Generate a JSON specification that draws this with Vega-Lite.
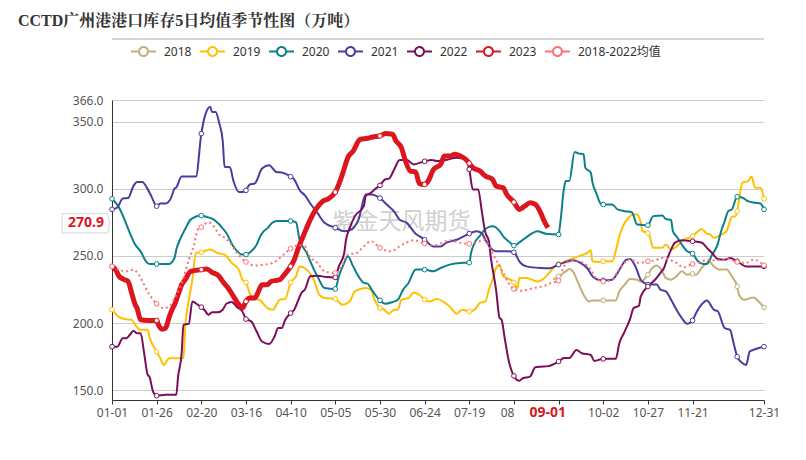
{
"$schema":"https://vega.github.io/schema/vega-lite/v6.json",
"width":652,"height":300,
"autosize":{"type":"none"},
"padding":{"left":112,"top":100,"right":42,"bottom":60},
"background":"white",
"config":{"view":{"stroke":null},"font":"Noto Sans"},
"title":{"text":"CCTD广州港港口库存5日均值季节性图（万吨）","anchor":"start","frame":"group","dx":-94,"offset":9,"font":"Liberation Serif, Noto Serif CJK SC, Noto Sans CJK SC","fontSize":16,"fontWeight":"bold","color":"#333"},
"data":{"format":{"parse":{"d":"date"}},"values":[
{"s":"2018","d":"2020-09-04","v":232.3},{"s":"2018","d":"2020-09-07","v":234.8},{"s":"2018","d":"2020-09-11","v":238.5},{"s":"2018","d":"2020-09-13","v":240.3},{"s":"2018","d":"2020-09-15","v":238.5},{"s":"2018","d":"2020-09-18","v":229.9},{"s":"2018","d":"2020-09-21","v":221.1},{"s":"2018","d":"2020-09-24","v":216.1},{"s":"2018","d":"2020-09-26","v":216.9},{"s":"2018","d":"2020-10-02","v":216.9},{"s":"2018","d":"2020-10-09","v":216.9},{"s":"2018","d":"2020-10-11","v":223.6},{"s":"2018","d":"2020-10-14","v":228.6},{"s":"2018","d":"2020-10-17","v":232.8},{"s":"2018","d":"2020-10-21","v":232.3},{"s":"2018","d":"2020-10-23","v":231},{"s":"2018","d":"2020-10-27","v":236},{"s":"2018","d":"2020-10-29","v":240.3},{"s":"2018","d":"2020-11-01","v":242.8},{"s":"2018","d":"2020-11-04","v":238.5},{"s":"2018","d":"2020-11-06","v":233.6},{"s":"2018","d":"2020-11-09","v":232.3},{"s":"2018","d":"2020-11-12","v":234.8},{"s":"2018","d":"2020-11-15","v":238.5},{"s":"2018","d":"2020-11-18","v":236},{"s":"2018","d":"2020-11-21","v":236.6},{"s":"2018","d":"2020-11-23","v":236},{"s":"2018","d":"2020-11-26","v":241},{"s":"2018","d":"2020-11-29","v":244.8},{"s":"2018","d":"2020-11-30","v":246},{"s":"2018","d":"2020-12-03","v":242.2},{"s":"2018","d":"2020-12-06","v":239.8},{"s":"2018","d":"2020-12-10","v":239.8},{"s":"2018","d":"2020-12-13","v":234.8},{"s":"2018","d":"2020-12-16","v":227.3},{"s":"2018","d":"2020-12-17","v":221.1},{"s":"2018","d":"2020-12-20","v":217.4},{"s":"2018","d":"2020-12-25","v":219.1},{"s":"2018","d":"2020-12-28","v":216.1},{"s":"2018","d":"2020-12-31","v":211.6},
{"s":"2019","d":"2020-01-01","v":210},{"s":"2019","d":"2020-01-05","v":204.5},{"s":"2019","d":"2020-01-08","v":203},{"s":"2019","d":"2020-01-12","v":202.5},{"s":"2019","d":"2020-01-14","v":198.7},{"s":"2019","d":"2020-01-17","v":195},{"s":"2019","d":"2020-01-21","v":195},{"s":"2019","d":"2020-01-22","v":189.6},{"s":"2019","d":"2020-01-26","v":178.8},{"s":"2019","d":"2020-01-28","v":173.9},{"s":"2019","d":"2020-01-30","v":168.9},{"s":"2019","d":"2020-02-02","v":173.9},{"s":"2019","d":"2020-02-10","v":173.9},{"s":"2019","d":"2020-02-11","v":197.5},{"s":"2019","d":"2020-02-13","v":217.4},{"s":"2019","d":"2020-02-15","v":232.3},{"s":"2019","d":"2020-02-17","v":252.2},{"s":"2019","d":"2020-02-20","v":252.7},{"s":"2019","d":"2020-02-25","v":254.7},{"s":"2019","d":"2020-02-29","v":252.2},{"s":"2019","d":"2020-03-04","v":251},{"s":"2019","d":"2020-03-08","v":244.8},{"s":"2019","d":"2020-03-12","v":239.8},{"s":"2019","d":"2020-03-14","v":232.3},{"s":"2019","d":"2020-03-16","v":230.3},{"s":"2019","d":"2020-03-18","v":222.4},{"s":"2019","d":"2020-03-20","v":218.7},{"s":"2019","d":"2020-03-24","v":216.9},{"s":"2019","d":"2020-03-28","v":211.2},{"s":"2019","d":"2020-03-31","v":210},{"s":"2019","d":"2020-04-04","v":217.4},{"s":"2019","d":"2020-04-07","v":218},{"s":"2019","d":"2020-04-10","v":230.3},{"s":"2019","d":"2020-04-13","v":234.8},{"s":"2019","d":"2020-04-15","v":242.2},{"s":"2019","d":"2020-04-19","v":239.8},{"s":"2019","d":"2020-04-23","v":232.3},{"s":"2019","d":"2020-04-26","v":221.1},{"s":"2019","d":"2020-04-29","v":218.7},{"s":"2019","d":"2020-05-05","v":218},{"s":"2019","d":"2020-05-09","v":213.7},{"s":"2019","d":"2020-05-13","v":216.1},{"s":"2019","d":"2020-05-16","v":223.6},{"s":"2019","d":"2020-05-22","v":226.1},{"s":"2019","d":"2020-05-25","v":225},{"s":"2019","d":"2020-05-27","v":217.4},{"s":"2019","d":"2020-05-30","v":211.2},{"s":"2019","d":"2020-06-01","v":210.5},{"s":"2019","d":"2020-06-04","v":207},{"s":"2019","d":"2020-06-07","v":210},{"s":"2019","d":"2020-06-09","v":210},{"s":"2019","d":"2020-06-11","v":217.4},{"s":"2019","d":"2020-06-15","v":218.7},{"s":"2019","d":"2020-06-18","v":222.8},{"s":"2019","d":"2020-06-21","v":221.1},{"s":"2019","d":"2020-06-24","v":217.4},{"s":"2019","d":"2020-06-27","v":216.1},{"s":"2019","d":"2020-07-01","v":218},{"s":"2019","d":"2020-07-05","v":215.4},{"s":"2019","d":"2020-07-08","v":212.4},{"s":"2019","d":"2020-07-12","v":207},{"s":"2019","d":"2020-07-15","v":210},{"s":"2019","d":"2020-07-19","v":208.7},{"s":"2019","d":"2020-07-22","v":210},{"s":"2019","d":"2020-07-25","v":215},{"s":"2019","d":"2020-07-28","v":216.1},{"s":"2019","d":"2020-07-30","v":224.9},{"s":"2019","d":"2020-08-01","v":232.3},{"s":"2019","d":"2020-08-03","v":241},{"s":"2019","d":"2020-08-05","v":243.5},{"s":"2019","d":"2020-08-07","v":234.8},{"s":"2019","d":"2020-08-09","v":233.6},{"s":"2019","d":"2020-08-13","v":230.3},{"s":"2019","d":"2020-08-15","v":226.1},{"s":"2019","d":"2020-08-16","v":233.6},{"s":"2019","d":"2020-08-20","v":233.6},{"s":"2019","d":"2020-08-26","v":231},{"s":"2019","d":"2020-08-29","v":232.3},{"s":"2019","d":"2020-08-31","v":234.8},{"s":"2019","d":"2020-09-05","v":242.2},{"s":"2019","d":"2020-09-07","v":244},{"s":"2019","d":"2020-09-09","v":244.8},{"s":"2019","d":"2020-09-13","v":247.2},{"s":"2019","d":"2020-09-18","v":249.7},{"s":"2019","d":"2020-09-23","v":252.2},{"s":"2019","d":"2020-09-25","v":254.2},{"s":"2019","d":"2020-09-26","v":246},{"s":"2019","d":"2020-09-29","v":245.5},{"s":"2019","d":"2020-10-02","v":246},{"s":"2019","d":"2020-10-07","v":246},{"s":"2019","d":"2020-10-09","v":253.4},{"s":"2019","d":"2020-10-11","v":264.6},{"s":"2019","d":"2020-10-13","v":272},{"s":"2019","d":"2020-10-16","v":278.4},{"s":"2019","d":"2020-10-19","v":280.8},{"s":"2019","d":"2020-10-21","v":280.8},{"s":"2019","d":"2020-10-23","v":274.6},{"s":"2019","d":"2020-10-24","v":268.4},{"s":"2019","d":"2020-10-27","v":267},{"s":"2019","d":"2020-10-28","v":264.6},{"s":"2019","d":"2020-10-30","v":256},{"s":"2019","d":"2020-11-04","v":256},{"s":"2019","d":"2020-11-06","v":258.4},{"s":"2019","d":"2020-11-09","v":254.7},{"s":"2019","d":"2020-11-12","v":257},{"s":"2019","d":"2020-11-16","v":262},{"s":"2019","d":"2020-11-21","v":264.6},{"s":"2019","d":"2020-11-23","v":267},{"s":"2019","d":"2020-11-26","v":270.1},{"s":"2019","d":"2020-11-29","v":266.6},{"s":"2019","d":"2020-12-01","v":265.9},{"s":"2019","d":"2020-12-03","v":263.4},{"s":"2019","d":"2020-12-07","v":265.9},{"s":"2019","d":"2020-12-10","v":268.4},{"s":"2019","d":"2020-12-13","v":279},{"s":"2019","d":"2020-12-15","v":279.5},{"s":"2019","d":"2020-12-16","v":283.3},{"s":"2019","d":"2020-12-17","v":292},{"s":"2019","d":"2020-12-19","v":304.5},{"s":"2019","d":"2020-12-22","v":305.7},{"s":"2019","d":"2020-12-24","v":309},{"s":"2019","d":"2020-12-26","v":300.7},{"s":"2019","d":"2020-12-29","v":300.7},{"s":"2019","d":"2020-12-31","v":292.5},
{"s":"2020","d":"2020-01-01","v":292.5},{"s":"2020","d":"2020-01-05","v":285.8},{"s":"2020","d":"2020-01-08","v":277},{"s":"2020","d":"2020-01-11","v":267},{"s":"2020","d":"2020-01-14","v":258.4},{"s":"2020","d":"2020-01-17","v":253.4},{"s":"2020","d":"2020-01-20","v":246},{"s":"2020","d":"2020-01-22","v":244},{"s":"2020","d":"2020-01-26","v":244},{"s":"2020","d":"2020-02-02","v":244},{"s":"2020","d":"2020-02-05","v":248.5},{"s":"2020","d":"2020-02-06","v":254.7},{"s":"2020","d":"2020-02-08","v":262},{"s":"2020","d":"2020-02-11","v":270},{"s":"2020","d":"2020-02-14","v":277},{"s":"2020","d":"2020-02-20","v":280},{"s":"2020","d":"2020-02-23","v":279},{"s":"2020","d":"2020-02-27","v":277},{"s":"2020","d":"2020-03-02","v":272},{"s":"2020","d":"2020-03-05","v":267},{"s":"2020","d":"2020-03-09","v":257},{"s":"2020","d":"2020-03-14","v":251},{"s":"2020","d":"2020-03-16","v":251},{"s":"2020","d":"2020-03-19","v":253.4},{"s":"2020","d":"2020-03-22","v":258.4},{"s":"2020","d":"2020-03-24","v":264.6},{"s":"2020","d":"2020-03-26","v":268.4},{"s":"2020","d":"2020-03-28","v":270.5},{"s":"2020","d":"2020-03-31","v":275},{"s":"2020","d":"2020-04-03","v":276},{"s":"2020","d":"2020-04-10","v":276},{"s":"2020","d":"2020-04-13","v":275},{"s":"2020","d":"2020-04-15","v":262},{"s":"2020","d":"2020-04-19","v":252.2},{"s":"2020","d":"2020-04-23","v":240},{"s":"2020","d":"2020-04-25","v":234.8},{"s":"2020","d":"2020-04-29","v":226.1},{"s":"2020","d":"2020-05-05","v":225.4},{"s":"2020","d":"2020-05-07","v":234.8},{"s":"2020","d":"2020-05-10","v":244.8},{"s":"2020","d":"2020-05-12","v":249.7},{"s":"2020","d":"2020-05-15","v":242.2},{"s":"2020","d":"2020-05-18","v":234.8},{"s":"2020","d":"2020-05-21","v":229.9},{"s":"2020","d":"2020-05-23","v":229.4},{"s":"2020","d":"2020-05-26","v":223.6},{"s":"2020","d":"2020-05-30","v":216.9},{"s":"2020","d":"2020-06-02","v":214.4},{"s":"2020","d":"2020-06-06","v":215.7},{"s":"2020","d":"2020-06-09","v":217.4},{"s":"2020","d":"2020-06-12","v":224.9},{"s":"2020","d":"2020-06-15","v":229.9},{"s":"2020","d":"2020-06-19","v":239.8},{"s":"2020","d":"2020-06-24","v":239.8},{"s":"2020","d":"2020-06-29","v":238.5},{"s":"2020","d":"2020-07-03","v":241},{"s":"2020","d":"2020-07-08","v":243.5},{"s":"2020","d":"2020-07-14","v":244.8},{"s":"2020","d":"2020-07-19","v":245},{"s":"2020","d":"2020-07-20","v":252.2},{"s":"2020","d":"2020-07-22","v":259.7},{"s":"2020","d":"2020-07-25","v":265},{"s":"2020","d":"2020-07-28","v":270},{"s":"2020","d":"2020-08-01","v":272},{"s":"2020","d":"2020-08-05","v":268.4},{"s":"2020","d":"2020-08-07","v":264.6},{"s":"2020","d":"2020-08-10","v":260.9},{"s":"2020","d":"2020-08-13","v":257.7},{"s":"2020","d":"2020-08-17","v":261},{"s":"2020","d":"2020-08-22","v":265.9},{"s":"2020","d":"2020-08-26","v":268.4},{"s":"2020","d":"2020-08-31","v":266.5},{"s":"2020","d":"2020-09-07","v":265.9},{"s":"2020","d":"2020-09-08","v":275},{"s":"2020","d":"2020-09-10","v":300},{"s":"2020","d":"2020-09-11","v":305.7},{"s":"2020","d":"2020-09-13","v":305.7},{"s":"2020","d":"2020-09-16","v":327.3},{"s":"2020","d":"2020-09-18","v":326.3},{"s":"2020","d":"2020-09-21","v":325.6},{"s":"2020","d":"2020-09-22","v":315.6},{"s":"2020","d":"2020-09-25","v":312},{"s":"2020","d":"2020-09-26","v":304.5},{"s":"2020","d":"2020-09-28","v":297},{"s":"2020","d":"2020-10-01","v":288.3},{"s":"2020","d":"2020-10-02","v":288.3},{"s":"2020","d":"2020-10-07","v":288.3},{"s":"2020","d":"2020-10-10","v":284.6},{"s":"2020","d":"2020-10-14","v":283.3},{"s":"2020","d":"2020-10-18","v":282.5},{"s":"2020","d":"2020-10-21","v":273.4},{"s":"2020","d":"2020-10-27","v":272.8},{"s":"2020","d":"2020-10-30","v":279.6},{"s":"2020","d":"2020-11-04","v":280},{"s":"2020","d":"2020-11-06","v":277.6},{"s":"2020","d":"2020-11-09","v":276.6},{"s":"2020","d":"2020-11-10","v":268.4},{"s":"2020","d":"2020-11-12","v":264.6},{"s":"2020","d":"2020-11-15","v":258.4},{"s":"2020","d":"2020-11-18","v":253.4},{"s":"2020","d":"2020-11-21","v":251.7},{"s":"2020","d":"2020-11-24","v":246},{"s":"2020","d":"2020-11-27","v":244},{"s":"2020","d":"2020-11-29","v":244},{"s":"2020","d":"2020-12-02","v":251},{"s":"2020","d":"2020-12-05","v":258.4},{"s":"2020","d":"2020-12-07","v":268.4},{"s":"2020","d":"2020-12-09","v":275.8},{"s":"2020","d":"2020-12-11","v":283.3},{"s":"2020","d":"2020-12-13","v":284.6},{"s":"2020","d":"2020-12-16","v":294},{"s":"2020","d":"2020-12-19","v":293.3},{"s":"2020","d":"2020-12-22","v":290.7},{"s":"2020","d":"2020-12-26","v":289.5},{"s":"2020","d":"2020-12-29","v":289},{"s":"2020","d":"2020-12-31","v":284.6},
{"s":"2021","d":"2020-01-01","v":284.6},{"s":"2021","d":"2020-01-04","v":286},{"s":"2021","d":"2020-01-07","v":292.8},{"s":"2021","d":"2020-01-10","v":293},{"s":"2021","d":"2020-01-13","v":302},{"s":"2021","d":"2020-01-15","v":305},{"s":"2021","d":"2020-01-18","v":305},{"s":"2021","d":"2020-01-21","v":299.5},{"s":"2021","d":"2020-01-23","v":294.5},{"s":"2021","d":"2020-01-26","v":287},{"s":"2021","d":"2020-01-28","v":289},{"s":"2021","d":"2020-01-31","v":289},{"s":"2021","d":"2020-02-03","v":293},{"s":"2021","d":"2020-02-05","v":300},{"s":"2021","d":"2020-02-06","v":301},{"s":"2021","d":"2020-02-09","v":309},{"s":"2021","d":"2020-02-17","v":309},{"s":"2021","d":"2020-02-20","v":341},{"s":"2021","d":"2020-02-22","v":354},{"s":"2021","d":"2020-02-25","v":361},{"s":"2021","d":"2020-02-26","v":357},{"s":"2021","d":"2020-02-28","v":357},{"s":"2021","d":"2020-03-01","v":349},{"s":"2021","d":"2020-03-03","v":335.5},{"s":"2021","d":"2020-03-04","v":316.4},{"s":"2021","d":"2020-03-07","v":316},{"s":"2021","d":"2020-03-09","v":305.7},{"s":"2021","d":"2020-03-12","v":297.5},{"s":"2021","d":"2020-03-14","v":297.5},{"s":"2021","d":"2020-03-16","v":298.8},{"s":"2021","d":"2020-03-18","v":303},{"s":"2021","d":"2020-03-21","v":304},{"s":"2021","d":"2020-03-25","v":315},{"s":"2021","d":"2020-03-29","v":317.4},{"s":"2021","d":"2020-04-02","v":312.4},{"s":"2021","d":"2020-04-05","v":312},{"s":"2021","d":"2020-04-10","v":309},{"s":"2021","d":"2020-04-12","v":307},{"s":"2021","d":"2020-04-15","v":299},{"s":"2021","d":"2020-04-18","v":295},{"s":"2021","d":"2020-04-21","v":289},{"s":"2021","d":"2020-04-25","v":282},{"s":"2021","d":"2020-04-29","v":274.6},{"s":"2021","d":"2020-05-05","v":271},{"s":"2021","d":"2020-05-10","v":268.4},{"s":"2021","d":"2020-05-13","v":269},{"s":"2021","d":"2020-05-18","v":277},{"s":"2021","d":"2020-05-22","v":295.7},{"s":"2021","d":"2020-05-25","v":295.7},{"s":"2021","d":"2020-05-30","v":293},{"s":"2021","d":"2020-06-03","v":288},{"s":"2021","d":"2020-06-07","v":283},{"s":"2021","d":"2020-06-10","v":277},{"s":"2021","d":"2020-06-14","v":274.6},{"s":"2021","d":"2020-06-19","v":266.5},{"s":"2021","d":"2020-06-22","v":264},{"s":"2021","d":"2020-06-24","v":262},{"s":"2021","d":"2020-06-29","v":257},{"s":"2021","d":"2020-07-03","v":257},{"s":"2021","d":"2020-07-06","v":259.7},{"s":"2021","d":"2020-07-12","v":262},{"s":"2021","d":"2020-07-19","v":266.6},{"s":"2021","d":"2020-07-23","v":268.4},{"s":"2021","d":"2020-07-26","v":267},{"s":"2021","d":"2020-07-28","v":262},{"s":"2021","d":"2020-07-31","v":256},{"s":"2021","d":"2020-08-03","v":253.4},{"s":"2021","d":"2020-08-09","v":253.4},{"s":"2021","d":"2020-08-13","v":252.7},{"s":"2021","d":"2020-08-16","v":246},{"s":"2021","d":"2020-08-20","v":242.2},{"s":"2021","d":"2020-08-28","v":241},{"s":"2021","d":"2020-09-02","v":240.8},{"s":"2021","d":"2020-09-07","v":243.5},{"s":"2021","d":"2020-09-10","v":245},{"s":"2021","d":"2020-09-15","v":246.7},{"s":"2021","d":"2020-09-19","v":245},{"s":"2021","d":"2020-09-23","v":241},{"s":"2021","d":"2020-09-26","v":234.8},{"s":"2021","d":"2020-09-29","v":232.3},{"s":"2021","d":"2020-10-02","v":231.8},{"s":"2021","d":"2020-10-07","v":232.3},{"s":"2021","d":"2020-10-10","v":237.3},{"s":"2021","d":"2020-10-15","v":247.2},{"s":"2021","d":"2020-10-17","v":247.7},{"s":"2021","d":"2020-10-20","v":242.2},{"s":"2021","d":"2020-10-23","v":232.3},{"s":"2021","d":"2020-10-25","v":229.9},{"s":"2021","d":"2020-10-27","v":228.7},{"s":"2021","d":"2020-11-01","v":228.7},{"s":"2021","d":"2020-11-03","v":224.9},{"s":"2021","d":"2020-11-06","v":223.6},{"s":"2021","d":"2020-11-09","v":217.4},{"s":"2021","d":"2020-11-12","v":209.9},{"s":"2021","d":"2020-11-15","v":203.7},{"s":"2021","d":"2020-11-18","v":199.5},{"s":"2021","d":"2020-11-21","v":202},{"s":"2021","d":"2020-11-23","v":207.5},{"s":"2021","d":"2020-11-26","v":213.7},{"s":"2021","d":"2020-11-29","v":216.9},{"s":"2021","d":"2020-12-03","v":209.9},{"s":"2021","d":"2020-12-05","v":209},{"s":"2021","d":"2020-12-09","v":196.3},{"s":"2021","d":"2020-12-12","v":195},{"s":"2021","d":"2020-12-14","v":185},{"s":"2021","d":"2020-12-16","v":175},{"s":"2021","d":"2020-12-18","v":171.3},{"s":"2021","d":"2020-12-21","v":168.9},{"s":"2021","d":"2020-12-23","v":178.8},{"s":"2021","d":"2020-12-26","v":180.6},{"s":"2021","d":"2020-12-31","v":182.5},
{"s":"2022","d":"2020-01-01","v":182.5},{"s":"2022","d":"2020-01-04","v":182.5},{"s":"2022","d":"2020-01-07","v":188.8},{"s":"2022","d":"2020-01-09","v":188.8},{"s":"2022","d":"2020-01-11","v":191.3},{"s":"2022","d":"2020-01-13","v":194.3},{"s":"2022","d":"2020-01-15","v":192.5},{"s":"2022","d":"2020-01-17","v":192.5},{"s":"2022","d":"2020-01-19","v":177.6},{"s":"2022","d":"2020-01-21","v":161.4},{"s":"2022","d":"2020-01-22","v":160},{"s":"2022","d":"2020-01-24","v":149},{"s":"2022","d":"2020-01-26","v":146},{"s":"2022","d":"2020-01-31","v":146.7},{"s":"2022","d":"2020-02-06","v":146.7},{"s":"2022","d":"2020-02-07","v":160.2},{"s":"2022","d":"2020-02-09","v":177.6},{"s":"2022","d":"2020-02-10","v":198.7},{"s":"2022","d":"2020-02-13","v":199.5},{"s":"2022","d":"2020-02-15","v":216.1},{"s":"2022","d":"2020-02-18","v":213.7},{"s":"2022","d":"2020-02-20","v":211.9},{"s":"2022","d":"2020-02-22","v":209.4},{"s":"2022","d":"2020-02-24","v":206.2},{"s":"2022","d":"2020-02-26","v":208},{"s":"2022","d":"2020-02-29","v":208},{"s":"2022","d":"2020-03-03","v":210},{"s":"2022","d":"2020-03-05","v":214.4},{"s":"2022","d":"2020-03-08","v":215.7},{"s":"2022","d":"2020-03-11","v":211.9},{"s":"2022","d":"2020-03-14","v":208.7},{"s":"2022","d":"2020-03-16","v":203},{"s":"2022","d":"2020-03-19","v":201.2},{"s":"2022","d":"2020-03-22","v":193.7},{"s":"2022","d":"2020-03-25","v":186.3},{"s":"2022","d":"2020-03-29","v":184.5},{"s":"2022","d":"2020-04-01","v":190},{"s":"2022","d":"2020-04-03","v":196.3},{"s":"2022","d":"2020-04-05","v":196.3},{"s":"2022","d":"2020-04-07","v":202.5},{"s":"2022","d":"2020-04-10","v":207.5},{"s":"2022","d":"2020-04-12","v":209.9},{"s":"2022","d":"2020-04-14","v":216.1},{"s":"2022","d":"2020-04-16","v":222.4},{"s":"2022","d":"2020-04-18","v":225},{"s":"2022","d":"2020-04-21","v":234.8},{"s":"2022","d":"2020-04-25","v":235.3},{"s":"2022","d":"2020-04-30","v":234.3},{"s":"2022","d":"2020-05-05","v":234},{"s":"2022","d":"2020-05-07","v":242.2},{"s":"2022","d":"2020-05-10","v":252.2},{"s":"2022","d":"2020-05-11","v":262},{"s":"2022","d":"2020-05-13","v":270.5},{"s":"2022","d":"2020-05-16","v":279.6},{"s":"2022","d":"2020-05-21","v":287},{"s":"2022","d":"2020-05-22","v":294.5},{"s":"2022","d":"2020-05-25","v":297},{"s":"2022","d":"2020-05-27","v":299.5},{"s":"2022","d":"2020-05-30","v":302.5},{"s":"2022","d":"2020-06-02","v":307},{"s":"2022","d":"2020-06-04","v":307.5},{"s":"2022","d":"2020-06-07","v":314.4},{"s":"2022","d":"2020-06-10","v":321.4},{"s":"2022","d":"2020-06-14","v":321.4},{"s":"2022","d":"2020-06-18","v":318.1},{"s":"2022","d":"2020-06-24","v":320.4},{"s":"2022","d":"2020-06-28","v":321.4},{"s":"2022","d":"2020-07-01","v":320.6},{"s":"2022","d":"2020-07-06","v":321.4},{"s":"2022","d":"2020-07-12","v":323.1},{"s":"2022","d":"2020-07-17","v":321.9},{"s":"2022","d":"2020-07-19","v":314.4},{"s":"2022","d":"2020-07-21","v":299.5},{"s":"2022","d":"2020-07-24","v":299.5},{"s":"2022","d":"2020-07-26","v":283.3},{"s":"2022","d":"2020-07-28","v":267.5},{"s":"2022","d":"2020-07-30","v":260.9},{"s":"2022","d":"2020-07-31","v":249.7},{"s":"2022","d":"2020-08-03","v":224.9},{"s":"2022","d":"2020-08-05","v":203.7},{"s":"2022","d":"2020-08-06","v":202.8},{"s":"2022","d":"2020-08-08","v":187.5},{"s":"2022","d":"2020-08-10","v":172.6},{"s":"2022","d":"2020-08-13","v":160.7},{"s":"2022","d":"2020-08-16","v":157.2},{"s":"2022","d":"2020-08-18","v":159},{"s":"2022","d":"2020-08-22","v":160.2},{"s":"2022","d":"2020-08-25","v":167.1},{"s":"2022","d":"2020-08-28","v":167.6},{"s":"2022","d":"2020-09-01","v":168},{"s":"2022","d":"2020-09-07","v":171.4},{"s":"2022","d":"2020-09-10","v":174},{"s":"2022","d":"2020-09-13","v":174},{"s":"2022","d":"2020-09-17","v":180},{"s":"2022","d":"2020-09-20","v":177.6},{"s":"2022","d":"2020-09-25","v":176.3},{"s":"2022","d":"2020-09-27","v":171.9},{"s":"2022","d":"2020-10-02","v":173.4},{"s":"2022","d":"2020-10-09","v":173.4},{"s":"2022","d":"2020-10-11","v":185},{"s":"2022","d":"2020-10-14","v":193.7},{"s":"2022","d":"2020-10-17","v":203},{"s":"2022","d":"2020-10-19","v":211.2},{"s":"2022","d":"2020-10-22","v":212.9},{"s":"2022","d":"2020-10-23","v":219.9},{"s":"2022","d":"2020-10-27","v":227.3},{"s":"2022","d":"2020-10-29","v":229.9},{"s":"2022","d":"2020-10-31","v":232.3},{"s":"2022","d":"2020-11-03","v":237.3},{"s":"2022","d":"2020-11-05","v":241},{"s":"2022","d":"2020-11-07","v":248.5},{"s":"2022","d":"2020-11-09","v":254.7},{"s":"2022","d":"2020-11-11","v":259.7},{"s":"2022","d":"2020-11-15","v":261.6},{"s":"2022","d":"2020-11-21","v":260.9},{"s":"2022","d":"2020-11-26","v":260},{"s":"2022","d":"2020-11-29","v":256},{"s":"2022","d":"2020-12-02","v":252.2},{"s":"2022","d":"2020-12-05","v":247.7},{"s":"2022","d":"2020-12-09","v":247.2},{"s":"2022","d":"2020-12-12","v":248.5},{"s":"2022","d":"2020-12-16","v":246},{"s":"2022","d":"2020-12-21","v":242.2},{"s":"2022","d":"2020-12-31","v":242.2},
{"s":"2023","d":"2020-01-01","v":242.2},{"s":"2023","d":"2020-01-03","v":239.8},{"s":"2023","d":"2020-01-05","v":234.8},{"s":"2023","d":"2020-01-08","v":232.3},{"s":"2023","d":"2020-01-10","v":231},{"s":"2023","d":"2020-01-12","v":222.4},{"s":"2023","d":"2020-01-14","v":213.7},{"s":"2023","d":"2020-01-15","v":211.2},{"s":"2023","d":"2020-01-17","v":202.5},{"s":"2023","d":"2020-01-21","v":202},{"s":"2023","d":"2020-01-26","v":202},{"s":"2023","d":"2020-01-27","v":198.7},{"s":"2023","d":"2020-01-29","v":195.5},{"s":"2023","d":"2020-01-31","v":196.3},{"s":"2023","d":"2020-02-02","v":204.5},{"s":"2023","d":"2020-02-04","v":211.2},{"s":"2023","d":"2020-02-05","v":213.7},{"s":"2023","d":"2020-02-07","v":221.1},{"s":"2023","d":"2020-02-09","v":228.6},{"s":"2023","d":"2020-02-11","v":232.3},{"s":"2023","d":"2020-02-14","v":238.5},{"s":"2023","d":"2020-02-20","v":239.8},{"s":"2023","d":"2020-02-23","v":240.3},{"s":"2023","d":"2020-02-26","v":237.8},{"s":"2023","d":"2020-03-01","v":234.8},{"s":"2023","d":"2020-03-03","v":231},{"s":"2023","d":"2020-03-06","v":226.1},{"s":"2023","d":"2020-03-09","v":219.9},{"s":"2023","d":"2020-03-12","v":213.7},{"s":"2023","d":"2020-03-14","v":211.2},{"s":"2023","d":"2020-03-16","v":216.1},{"s":"2023","d":"2020-03-18","v":218.7},{"s":"2023","d":"2020-03-21","v":218.7},{"s":"2023","d":"2020-03-23","v":223.6},{"s":"2023","d":"2020-03-25","v":228.6},{"s":"2023","d":"2020-03-28","v":228.6},{"s":"2023","d":"2020-03-30","v":231},{"s":"2023","d":"2020-04-02","v":231.8},{"s":"2023","d":"2020-04-04","v":232.3},{"s":"2023","d":"2020-04-06","v":235.3},{"s":"2023","d":"2020-04-10","v":242.2},{"s":"2023","d":"2020-04-12","v":247},{"s":"2023","d":"2020-04-14","v":254.7},{"s":"2023","d":"2020-04-17","v":264.6},{"s":"2023","d":"2020-04-21","v":277},{"s":"2023","d":"2020-04-24","v":284.5},{"s":"2023","d":"2020-04-28","v":290.7},{"s":"2023","d":"2020-05-01","v":292.5},{"s":"2023","d":"2020-05-05","v":297.5},{"s":"2023","d":"2020-05-08","v":307},{"s":"2023","d":"2020-05-10","v":315},{"s":"2023","d":"2020-05-12","v":323.1},{"s":"2023","d":"2020-05-15","v":328},{"s":"2023","d":"2020-05-19","v":336.8},{"s":"2023","d":"2020-05-23","v":337.5},{"s":"2023","d":"2020-05-26","v":338.5},{"s":"2023","d":"2020-05-30","v":339.3},{"s":"2023","d":"2020-06-02","v":341},{"s":"2023","d":"2020-06-06","v":340.5},{"s":"2023","d":"2020-06-08","v":335.5},{"s":"2023","d":"2020-06-11","v":330.6},{"s":"2023","d":"2020-06-13","v":321.9},{"s":"2023","d":"2020-06-16","v":313.1},{"s":"2023","d":"2020-06-19","v":312.4},{"s":"2023","d":"2020-06-21","v":304},{"s":"2023","d":"2020-06-24","v":303.2},{"s":"2023","d":"2020-06-26","v":305.7},{"s":"2023","d":"2020-06-29","v":314.4},{"s":"2023","d":"2020-07-03","v":318.1},{"s":"2023","d":"2020-07-05","v":324.3},{"s":"2023","d":"2020-07-08","v":324.3},{"s":"2023","d":"2020-07-11","v":325.6},{"s":"2023","d":"2020-07-14","v":324.3},{"s":"2023","d":"2020-07-17","v":321.9},{"s":"2023","d":"2020-07-19","v":318.9},{"s":"2023","d":"2020-07-21","v":315.7},{"s":"2023","d":"2020-07-25","v":313.1},{"s":"2023","d":"2020-07-28","v":309.4},{"s":"2023","d":"2020-08-01","v":307},{"s":"2023","d":"2020-08-03","v":302},{"s":"2023","d":"2020-08-07","v":300.7},{"s":"2023","d":"2020-08-09","v":295.7},{"s":"2023","d":"2020-08-13","v":290},{"s":"2023","d":"2020-08-16","v":284.6},{"s":"2023","d":"2020-08-19","v":287},{"s":"2023","d":"2020-08-22","v":289.5},{"s":"2023","d":"2020-08-25","v":288.3},{"s":"2023","d":"2020-08-28","v":282},{"s":"2023","d":"2020-08-30","v":275.8},{"s":"2023","d":"2020-09-01","v":270.9},
{"s":"2018-2022均值","d":"2020-01-01","v":242.2},{"s":"2018-2022均值","d":"2020-01-05","v":239.8},{"s":"2018-2022均值","d":"2020-01-09","v":238.5},{"s":"2018-2022均值","d":"2020-01-13","v":239.8},{"s":"2018-2022均值","d":"2020-01-16","v":236},{"s":"2018-2022均值","d":"2020-01-19","v":228.6},{"s":"2018-2022均值","d":"2020-01-22","v":221.1},{"s":"2018-2022均值","d":"2020-01-26","v":214.4},{"s":"2018-2022均值","d":"2020-01-30","v":211.2},{"s":"2018-2022均值","d":"2020-02-03","v":213.7},{"s":"2018-2022均值","d":"2020-02-05","v":218.7},{"s":"2018-2022均值","d":"2020-02-07","v":223.6},{"s":"2018-2022均值","d":"2020-02-10","v":233.6},{"s":"2018-2022均值","d":"2020-02-13","v":247.2},{"s":"2018-2022均值","d":"2020-02-16","v":258.4},{"s":"2018-2022均值","d":"2020-02-18","v":269.6},{"s":"2018-2022均值","d":"2020-02-20","v":271.4},{"s":"2018-2022均值","d":"2020-02-24","v":275},{"s":"2018-2022均值","d":"2020-02-27","v":272},{"s":"2018-2022均值","d":"2020-03-01","v":266},{"s":"2018-2022均值","d":"2020-03-03","v":264.6},{"s":"2018-2022均值","d":"2020-03-07","v":259.7},{"s":"2018-2022均值","d":"2020-03-11","v":252.2},{"s":"2018-2022均值","d":"2020-03-16","v":245.5},{"s":"2018-2022均值","d":"2020-03-21","v":242.8},{"s":"2018-2022均值","d":"2020-03-26","v":243.5},{"s":"2018-2022均值","d":"2020-03-31","v":244.8},{"s":"2018-2022均值","d":"2020-04-05","v":249.7},{"s":"2018-2022均值","d":"2020-04-10","v":255.4},{"s":"2018-2022均值","d":"2020-04-14","v":257.9},{"s":"2018-2022均值","d":"2020-04-18","v":257},{"s":"2018-2022均值","d":"2020-04-20","v":251},{"s":"2018-2022均值","d":"2020-04-25","v":244.8},{"s":"2018-2022均值","d":"2020-04-29","v":238.5},{"s":"2018-2022均值","d":"2020-05-05","v":237.3},{"s":"2018-2022均值","d":"2020-05-09","v":243.5},{"s":"2018-2022均值","d":"2020-05-12","v":251},{"s":"2018-2022均值","d":"2020-05-17","v":252.2},{"s":"2018-2022均值","d":"2020-05-21","v":257.2},{"s":"2018-2022均值","d":"2020-05-25","v":260.9},{"s":"2018-2022均值","d":"2020-05-30","v":256},{"s":"2018-2022均值","d":"2020-06-05","v":253.4},{"s":"2018-2022均值","d":"2020-06-10","v":257.2},{"s":"2018-2022均值","d":"2020-06-18","v":261.6},{"s":"2018-2022均值","d":"2020-06-24","v":259.2},{"s":"2018-2022均值","d":"2020-06-29","v":257.9},{"s":"2018-2022均值","d":"2020-07-04","v":259.7},{"s":"2018-2022均值","d":"2020-07-08","v":261.6},{"s":"2018-2022均值","d":"2020-07-14","v":259.7},{"s":"2018-2022均值","d":"2020-07-19","v":259},{"s":"2018-2022均值","d":"2020-07-23","v":259.7},{"s":"2018-2022均值","d":"2020-07-27","v":262},{"s":"2018-2022均值","d":"2020-07-30","v":257.7},{"s":"2018-2022均值","d":"2020-08-01","v":252.2},{"s":"2018-2022均值","d":"2020-08-04","v":244.8},{"s":"2018-2022均值","d":"2020-08-07","v":237.3},{"s":"2018-2022均值","d":"2020-08-10","v":229.9},{"s":"2018-2022均值","d":"2020-08-13","v":225.4},{"s":"2018-2022均值","d":"2020-08-17","v":224},{"s":"2018-2022均值","d":"2020-08-24","v":226.1},{"s":"2018-2022均值","d":"2020-08-29","v":227.3},{"s":"2018-2022均值","d":"2020-09-03","v":229.9},{"s":"2018-2022均值","d":"2020-09-07","v":231.6},{"s":"2018-2022均值","d":"2020-09-10","v":242.2},{"s":"2018-2022均值","d":"2020-09-15","v":246.7},{"s":"2018-2022均值","d":"2020-09-21","v":244.8},{"s":"2018-2022均值","d":"2020-09-25","v":239.8},{"s":"2018-2022均值","d":"2020-09-28","v":233.6},{"s":"2018-2022均值","d":"2020-10-02","v":231},{"s":"2018-2022均值","d":"2020-10-07","v":232.3},{"s":"2018-2022均值","d":"2020-10-10","v":238.5},{"s":"2018-2022均值","d":"2020-10-14","v":244.8},{"s":"2018-2022均值","d":"2020-10-17","v":247.7},{"s":"2018-2022均值","d":"2020-10-22","v":244.8},{"s":"2018-2022均值","d":"2020-10-27","v":246},{"s":"2018-2022均值","d":"2020-10-31","v":246.7},{"s":"2018-2022均值","d":"2020-11-04","v":248.5},{"s":"2018-2022均值","d":"2020-11-08","v":247.2},{"s":"2018-2022均值","d":"2020-11-12","v":244.8},{"s":"2018-2022均值","d":"2020-11-16","v":241.5},{"s":"2018-2022均值","d":"2020-11-21","v":244},{"s":"2018-2022均值","d":"2020-11-25","v":244.8},{"s":"2018-2022均值","d":"2020-11-29","v":247.2},{"s":"2018-2022均值","d":"2020-12-03","v":246.7},{"s":"2018-2022均值","d":"2020-12-07","v":246.7},{"s":"2018-2022均值","d":"2020-12-11","v":247.7},{"s":"2018-2022均值","d":"2020-12-16","v":245.5},{"s":"2018-2022均值","d":"2020-12-21","v":244.8},{"s":"2018-2022均值","d":"2020-12-25","v":247.2},{"s":"2018-2022均值","d":"2020-12-31","v":243}
]},
"layer":[
{"data":{"values":[{"t":"紫金天风期货"}]},
"mark":{"type":"text","font":"Noto Sans CJK SC","fontSize":23,"color":"#c8c8c8","opacity":0.85},
"encoding":{"x":{"datum":{"year":2020,"month":6,"date":11,"utc":true},"type":"temporal"},"y":{"datum":275.6},"text":{"field":"t"}}},
{"data":{"values":[{"t":"separator"}]},
"mark":{"type":"rule","clip":false,"color":"#aaaaaa","strokeWidth":1},
"encoding":{"y":{"datum":411.4}}},
{"transform":[{"filter":{"field":"s","oneOf":["2018","2019","2020","2021","2022"]}}],
"mark":{"type":"line","strokeWidth":2,"interpolate":"monotone","strokeJoin":"round"},
"encoding":{
"x":{"field":"d","type":"temporal","scale":{"type":"utc","domain":[{"year":2020,"month":1,"date":1,"utc":true},{"year":2020,"month":12,"date":31,"utc":true}],"nice":false},
"axis":{"title":null,"values":[{"year":2020,"month":1,"date":1,"utc":true},{"year":2020,"month":1,"date":26,"utc":true},{"year":2020,"month":2,"date":20,"utc":true},{"year":2020,"month":3,"date":16,"utc":true},{"year":2020,"month":4,"date":10,"utc":true},{"year":2020,"month":5,"date":5,"utc":true},{"year":2020,"month":5,"date":30,"utc":true},{"year":2020,"month":6,"date":24,"utc":true},{"year":2020,"month":7,"date":19,"utc":true},{"year":2020,"month":8,"date":13,"utc":true},{"year":2020,"month":9,"date":7,"utc":true},{"year":2020,"month":10,"date":2,"utc":true},{"year":2020,"month":10,"date":27,"utc":true},{"year":2020,"month":11,"date":21,"utc":true},{"year":2020,"month":12,"date":31,"utc":true}],
"labelExpr":"utcFormat(datum.value,'%m-%d') == '08-13' ? '08' : (utcFormat(datum.value,'%m-%d') == '09-07' ? '' : utcFormat(datum.value,'%m-%d'))",
"labelAlign":{"condition":{"test":"utcFormat(datum.value,'%m-%d') == '08-13'","value":"right"},"value":"center"},
"labelOverlap":false,"labelFlush":false,"grid":false,"domainColor":"#333","tickColor":"#333","tickSize":4,"labelPadding":3,"labelFont":"Noto Sans","labelFontSize":12,"labelColor":"#555"}},
"y":{"field":"v","type":"quantitative","scale":{"domain":[142.8,366],"nice":false,"zero":false},
"axis":{"title":null,"values":[150,200,250,300,350,366],"format":".1f","grid":true,"gridColor":"#cccccc","ticks":false,"domainColor":"#333","labelPadding":9,"labelFont":"Noto Sans","labelFontSize":12,"labelColor":"#555"}},
"color":{"field":"s","type":"nominal","scale":{"domain":["2018","2019","2020","2021","2022","2023","2018-2022均值"],"range":["#c2b07a","#ffc000","#0a8189","#4b3c9d","#7b0e5b","#dc161e","#ff7070"]},
"legend":{"orient":"none","legendX":24,"legendY":-56,"direction":"horizontal","columns":7,"title":null,"padding":0,
"symbolType":"M-2,0H-0.72M0.72,0H2M0.72,0A0.72,0.72,0,1,1,-0.72,0A0.72,0.72,0,1,1,0.72,0","symbolSize":156,"symbolStrokeWidth":2,"symbolFillColor":"#fff",
"labelFont":"Noto Sans, Noto Sans CJK SC","labelFontSize":12,"labelColor":"#333","labelOffset":13,"columnPadding":4,
"encode":{"symbols":{"update":{"fill":{"value":"#fff"},"strokeWidth":{"value":2},"strokeDash":{"value":[1,0]},"opacity":{"value":1}}}}}}}},
{"transform":[{"filter":{"field":"s","equal":"2023"}}],
"mark":{"type":"line","strokeWidth":5,"interpolate":"monotone","strokeJoin":"round"},
"encoding":{"x":{"field":"d","type":"temporal"},"y":{"field":"v","type":"quantitative"},"color":{"field":"s","type":"nominal"}}},
{"transform":[{"filter":{"field":"s","equal":"2018-2022均值"}}],
"mark":{"type":"line","strokeWidth":2,"strokeDash":[2,3],"interpolate":"monotone"},
"encoding":{"x":{"field":"d","type":"temporal"},"y":{"field":"v","type":"quantitative"},"color":{"field":"s","type":"nominal"}}},
{"transform":[{"filter":"indexof(['01-01','01-26','02-20','03-16','04-10','05-05','05-30','06-24','07-19','08-13','09-07','10-02','10-27','11-21','12-16','12-31'], utcFormat(datum.d,'%m-%d')) >= 0"}],
"mark":{"type":"point","shape":"circle","filled":false,"fill":"#ffffff","size":22,"strokeWidth":1,"opacity":1},
"encoding":{"x":{"field":"d","type":"temporal"},"y":{"field":"v","type":"quantitative"},"color":{"field":"s","type":"nominal"}}},
{"transform":[{"filter":"datum.s == '2023' && utcFormat(datum.d,'%m-%d') == '09-01'"}],
"mark":{"type":"point","shape":"M-2.17,-0.42H-0.19L-0.104,0L-0.19,0.42H-2.17Z","size":2116,"filled":true,"fill":"#ffffff","stroke":"#d8d8d8","strokeWidth":1,"opacity":1,"yOffset":-4.5},
"encoding":{"x":{"datum":{"year":2020,"month":1,"date":1,"utc":true},"type":"temporal"},"y":{"field":"v","type":"quantitative"}}},
{"transform":[{"filter":"datum.s == '2023' && utcFormat(datum.d,'%m-%d') == '09-01'"}],
"mark":{"type":"text","align":"right","baseline":"middle","dx":-8,"dy":-4.5,"font":"Noto Sans","fontSize":14,"fontWeight":"bold","color":"#dc161e"},
"encoding":{"x":{"datum":{"year":2020,"month":1,"date":1,"utc":true},"type":"temporal"},"y":{"field":"v","type":"quantitative"},"text":{"field":"v","type":"quantitative","format":".1f"}}},
{"transform":[{"filter":"datum.s == '2023' && utcFormat(datum.d,'%m-%d') == '09-01'"}],
"mark":{"type":"text","align":"center","baseline":"middle","dy":13,"font":"Noto Sans","fontSize":14,"fontWeight":"bold","color":"#dc161e"},
"encoding":{"x":{"field":"d","type":"temporal"},"y":{"datum":142.8},"text":{"value":"09-01"}}}
]
}
